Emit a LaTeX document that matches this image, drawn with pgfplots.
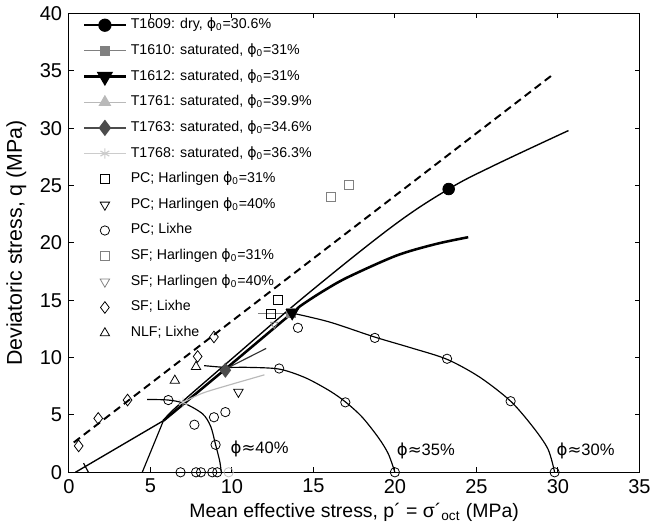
\documentclass[border=0pt]{standalone}
\usepackage{fontspec}
\setmainfont{Liberation Sans}
\newfontfamily\dv{DejaVu Sans}
\usepackage{pgfplots}
\pgfplotsset{compat=1.18}
\newcommand{\ph}{{\dv ϕ}}
\newcommand{\ap}{{\dv ≈}}
\pgfplotsset{longleg/.style={legend image code/.code={\draw[mark repeat=2,mark phase=2,##1] plot coordinates {(0cm,0cm) (0.375cm,0cm) (0.75cm,0cm)};}}}

\begin{document}
\begin{tikzpicture}
\begin{axis}[
  width=293.5pt, height=236pt, scale only axis,
  xmin=0, xmax=35, ymin=0, ymax=40,
  xtick={0,5,...,35}, ytick={0,5,...,40},
  major tick length=2.5pt,
  tick style={black, line width=0.5pt},
  axis line style={line width=0.6pt},
  tick label style={font=\fontsize{10.3}{12}\selectfont},
  /pgf/number format/assume math mode=true,
  xlabel={Mean effective stress, p´ = σ´\textsubscript{oct} (MPa)},
  ylabel={Deviatoric stress, q (MPa)},
  xlabel style={font=\fontsize{10}{12}\selectfont, yshift=2pt},
  ylabel style={font=\fontsize{11}{13}\selectfont},
  legend cell align=left,
  legend style={draw=none, fill=none, inner sep=0pt,
    at={(axis description cs:0,1)}, anchor=north west, xshift=7pt,
    font=\fontsize{7.3}{8.5}\selectfont, row sep=1.6pt,
    nodes={text height=5.6pt, text depth=2pt, inner sep=2pt}},
]
% legend entries
\addlegendimage{longleg, black, line width=0.8pt, mark=*, mark size=3pt}
\addlegendentry{T1609: dry, \ph\textsubscript{0}=30.6\%}
\addlegendimage{longleg, gray, line width=0.6pt, mark=square*, mark size=2.4pt}
\addlegendentry{T1610: saturated, \ph\textsubscript{0}=31\%}
\addlegendimage{longleg, black, line width=1.3pt, mark=triangle*, mark options={rotate=180}, mark size=3.6pt}
\addlegendentry{T1612: saturated, \ph\textsubscript{0}=31\%}
\addlegendimage{longleg, gray!55, line width=0.6pt, mark=triangle*, mark size=3.2pt}
\addlegendentry{T1761: saturated, \ph\textsubscript{0}=39.9\%}
\addlegendimage{longleg, black!70, line width=0.8pt, mark=diamond*, mark size=3.6pt}
\addlegendentry{T1763: saturated, \ph\textsubscript{0}=34.6\%}
\addlegendimage{longleg, gray!40, line width=0.6pt, mark=asterisk, mark size=2.6pt}
\addlegendentry{T1768: saturated, \ph\textsubscript{0}=36.3\%}
\addlegendimage{only marks, longleg, black, mark=square, mark size=2.3pt}
\addlegendentry{PC; Harlingen \ph\textsubscript{0}=31\%}
\addlegendimage{only marks, longleg, black, mark=triangle, mark options={rotate=180}, mark size=2.8pt}
\addlegendentry{PC; Harlingen \ph\textsubscript{0}=40\%}
\addlegendimage{only marks, longleg, black, mark=o, mark size=2.4pt}
\addlegendentry{PC; Lixhe}
\addlegendimage{only marks, longleg, gray, mark=square, mark size=2.3pt}
\addlegendentry{SF; Harlingen \ph\textsubscript{0}=31\%}
\addlegendimage{only marks, longleg, gray, mark=triangle, mark options={rotate=180}, mark size=2.8pt}
\addlegendentry{SF; Harlingen \ph\textsubscript{0}=40\%}
\addlegendimage{only marks, longleg, black, mark=diamond, mark size=3pt}
\addlegendentry{SF; Lixhe}
\addlegendimage{only marks, longleg, black, mark=triangle, mark size=2.8pt}
\addlegendentry{NLF; Lixhe}

% failure line
\addplot[forget plot, black, line width=1pt, dash pattern=on 4pt off 2.5pt] coordinates {(0.3,2.6) (29.8,34.8)};

% caps
\addplot[forget plot, black, line width=0.6pt, smooth, tension=0.5] coordinates {
  (4.8,6.35) (6.1,6.3) (7.1,6.0) (8.2,5.1) (8.7,4.0) (9.0,2.4) (9.25,1.0) (9.35,0)};
\addplot[forget plot, black, line width=0.6pt, smooth, tension=0.5] coordinates {
  (8.3,9.3) (9.6,9.15) (11.0,9.15) (12.9,9.0) (14.5,8.25) (16.0,7.1) (17.0,6.1) (18.0,4.8) (19.0,3.0) (19.6,1.6) (20.0,0)};
\addplot[forget plot, black, line width=0.6pt, smooth, tension=0.5] coordinates {
  (13.8,13.85) (16.0,13.1) (18.75,11.8) (21.0,10.85) (23.2,9.85) (25.2,8.3) (27.1,6.2) (28.5,3.9) (29.4,2.0) (29.8,0)};
\addplot[forget plot, gray, line width=0.6pt] coordinates {(11.6,13.85) (13.8,13.85)};

% T1609 dry
\addplot[forget plot, black, line width=0.7pt] coordinates {(0.4,0) (5.8,4.5)};
\addplot[forget plot, black, line width=0.7pt, smooth, tension=0.6] coordinates {
  (5.8,4.5) (6.6,5.7) (10,9.9) (14.6,15.5) (19.9,21.5) (23.3,24.7) (26,26.7) (30.65,29.8)};
\addplot[forget plot, black, line width=0.6pt] coordinates {(1.2,0) (0.9,0.8)};
\addplot[forget plot, only marks, black, mark=*, mark size=3pt] coordinates {(23.3,24.7)};

% T1612 saturated
\addplot[forget plot, black, line width=0.6pt] coordinates {(4.5,0) (5.8,4.5)};
\addplot[forget plot, black, line width=1.3pt, smooth, tension=0.5] coordinates {
  (5.8,4.5) (9.6,9.0) (13.7,13.9) (14.3,14.6) (15.6,15.8) (17.1,17.0) (20.1,18.9) (22.5,19.9) (24.5,20.5)};

% T1763 and T1768
\addplot[forget plot, black!80, line width=0.6pt] coordinates {(9.6,9.0) (12.1,10.8)};
\addplot[forget plot, gray!55, line width=0.6pt, smooth] coordinates {(7.0,6.1) (8.2,6.9) (9.8,7.6) (12,8.5)};

% test markers
\addplot[forget plot, only marks, gray!40, mark=asterisk, mark size=2.6pt] coordinates {(7.0,6.1)};
\addplot[forget plot, only marks, gray, mark=square*, mark size=2.4pt] coordinates {(13.6,13.9)};
\addplot[forget plot, only marks, black, mark=triangle*, mark options={rotate=180}, mark size=3.6pt] coordinates {(13.7,13.9)};
\addplot[forget plot, only marks, black!70, mark=diamond*, mark size=3.6pt] coordinates {(9.6,8.9)};

% literature data
\addplot[forget plot, only marks, black, mark=square, mark size=2.3pt] coordinates {(12.8,15.0) (12.4,13.85)};
\addplot[forget plot, only marks, black, mark=triangle, mark options={rotate=180}, mark size=2.8pt] coordinates {(10.4,7.0)};
\addplot[forget plot, only marks, black, mark=o, mark size=2.4pt] coordinates {
  (6.1,6.3) (7.7,4.15) (8.9,4.8) (9.6,5.25) (9.0,2.4) (6.85,0) (7.8,0) (8.1,0) (8.8,0) (9.1,0)
  (12.9,9.05) (14.05,12.6) (18.77,11.72) (16.96,6.1) (23.2,9.9) (27.1,6.2) (20,0) (29.8,0)};
\addplot[forget plot, only marks, gray!50, mark=o, mark size=2.4pt] coordinates {(9.8,0)};
\addplot[forget plot, only marks, gray, mark=square, mark size=2.3pt] coordinates {(16.1,24.0) (17.2,25.1)};
\addplot[forget plot, only marks, gray, mark=triangle, mark options={rotate=180}, mark size=2.2pt] coordinates {(12.6,12.9)};
\addplot[forget plot, only marks, black, mark=diamond, mark size=3pt] coordinates {
  (0.6,2.3) (1.8,4.7) (3.6,6.3) (7.9,10.1) (8.9,11.8)};
\addplot[forget plot, only marks, black, mark=triangle, mark size=2.8pt] coordinates {(6.5,8.0) (7.8,9.2)};

% labels
\node[font=\fontsize{8.5}{10}\selectfont] at (axis cs:11.7,2.0) {\ph\ap40\%};
\node[font=\fontsize{8.5}{10}\selectfont] at (axis cs:21.9,1.85) {\ph\ap35\%};
\node[font=\fontsize{8.5}{10}\selectfont] at (axis cs:31.7,1.85) {\ph\ap30\%};
\end{axis}
\end{tikzpicture}
\end{document}
